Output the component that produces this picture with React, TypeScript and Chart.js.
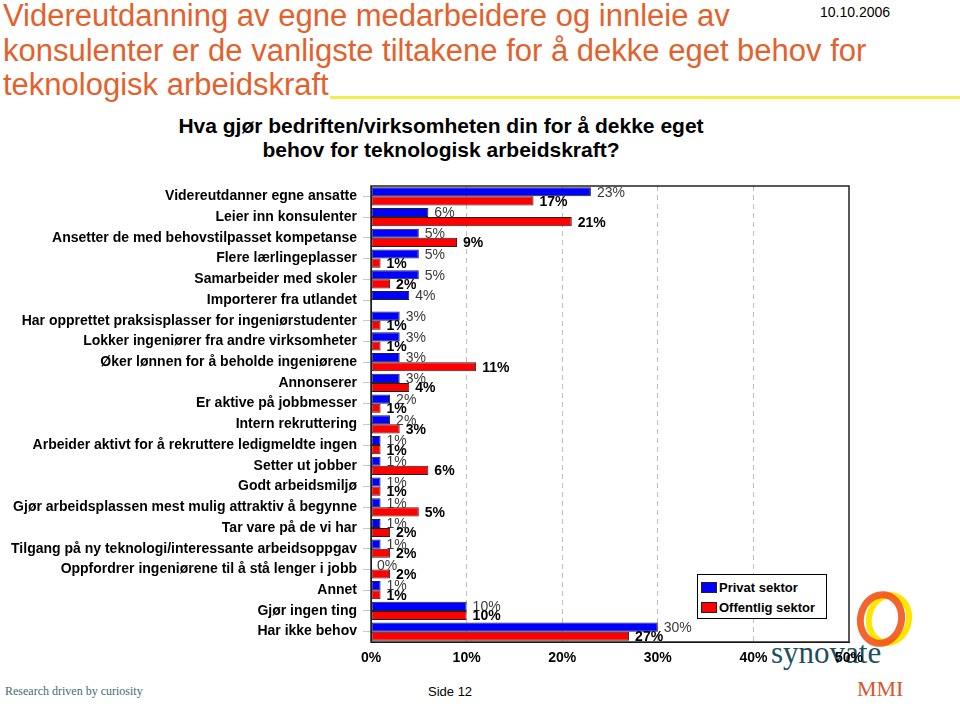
import React, { useEffect, useRef } from "react";
import { Chart, registerables } from "chart.js";

Chart.register(...registerables);

const categories = [
  "Videreutdanner egne ansatte",
  "Leier inn konsulenter",
  "Ansetter de med behovstilpasset kompetanse",
  "Flere lærlingeplasser",
  "Samarbeider med skoler",
  "Importerer fra utlandet",
  "Har opprettet praksisplasser for ingeniørstudenter",
  "Lokker ingeniører fra andre virksomheter",
  "Øker lønnen for å beholde ingeniørene",
  "Annonserer",
  "Er aktive på jobbmesser",
  "Intern rekruttering",
  "Arbeider aktivt for å rekruttere ledigmeldte ingen",
  "Setter ut jobber",
  "Godt arbeidsmiljø",
  "Gjør arbeidsplassen mest mulig attraktiv å begynne",
  "Tar vare på de vi har",
  "Tilgang på ny teknologi/interessante arbeidsoppgav",
  "Oppfordrer ingeniørene til å stå lenger i jobb",
  "Annet",
  "Gjør ingen ting",
  "Har ikke behov",
];

const privatSektor: (number | null)[] = [23, 6, 5, 5, 5, 4, 3, 3, 3, 3, 2, 2, 1, 1, 1, 1, 1, 1, 0, 1, 10, 30];
const offentligSektor: (number | null)[] = [17, 21, 9, 1, 2, null, 1, 1, 11, 4, 1, 3, 1, 6, 1, 5, 2, 2, 2, 1, 10, 27];
const seriesNames = ["Privat sektor", "Offentlig sektor"];
const seriesColors = ["#0000ff", "#ff0000"];
const xTickValues = [0, 10, 20, 30, 40, 50];

const titleLines = [
  "Videreutdanning av egne medarbeidere og innleie av",
  "konsulenter er de vanligste tiltakene for å dekke eget behov for",
  "teknologisk arbeidskraft",
];
const subtitleLines = [
  "Hva gjør bedriften/virksomheten din for å dekke eget",
  "behov for teknologisk arbeidskraft?",
];

const SANS = '"Liberation Sans", Arial, Helvetica, sans-serif';
const SERIF = '"Liberation Serif", "Times New Roman", serif';

const valueLabels = {
  id: "valueLabels",
  afterDatasetsDraw(chart: any) {
    const ctx = chart.ctx;
    chart.data.datasets.forEach((ds: any, di: number) => {
      const meta = chart.getDatasetMeta(di);
      ctx.save();
      ctx.font = di === 0 ? `14px ${SANS}` : `bold 14px ${SANS}`;
      ctx.fillStyle = di === 0 ? "#3a3a3a" : "#000";
      ctx.textAlign = "left";
      ctx.textBaseline = "middle";
      meta.data.forEach((bar: any, i: number) => {
        const v = ds.data[i];
        if (v === null || v === undefined) return;
        ctx.fillText(v + "%", bar.x + 6, bar.y + 1);
      });
      ctx.restore();
    });
  },
};

const frame = {
  id: "frame",
  afterDraw(chart: any) {
    const { ctx, chartArea: a } = chart;
    ctx.save();
    ctx.strokeStyle = "#222";
    ctx.lineWidth = 1.5;
    ctx.strokeRect(a.left, a.top, a.right - a.left, a.bottom - a.top);
    ctx.restore();
  },
};

export default function App() {
  const ref = useRef<HTMLCanvasElement>(null);

  useEffect(() => {
    if (!ref.current) return;
    const chart = new Chart(ref.current, {
      type: "bar",
      data: {
        labels: categories,
        datasets: [privatSektor, offentligSektor].map((d, i) => ({
          label: seriesNames[i],
          data: d,
          backgroundColor: seriesColors[i],
          borderColor: "#222",
          borderWidth: 1,
          borderSkipped: false,
          categoryPercentage: 0.88,
          barPercentage: 1.0,
        })),
      },
      options: {
        indexAxis: "y",
        animation: false,
        responsive: false,
        maintainAspectRatio: false,
        layout: { padding: { left: 0, right: 111, top: 186, bottom: 32 } },
        plugins: {
          legend: { display: false },
          tooltip: { enabled: false },
        },
        scales: {
          x: {
            type: "linear",
            min: 0,
            max: 50,
            afterBuildTicks: (s: any) => {
              s.ticks = xTickValues.map((v) => ({ value: v }));
            },
            afterFit: (s: any) => {
              s.height = 30;
            },
            ticks: {
              callback: (v: any) => v + "%",
              font: { family: SANS, size: 14, weight: "bold" },
              color: "#000",
              padding: 8,
            },
            grid: {
              color: (c: any) =>
                c.tick && (c.tick.value === 0 || c.tick.value === 50) ? "rgba(0,0,0,0)" : "#bdbdbd",
              drawTicks: false,
              lineWidth: 1,
            },
            border: { display: true, color: "#000", width: 1, dash: [5, 4] },
          },
          y: {
            type: "category",
            afterFit: (s: any) => {
              s.width = 371;
            },
            ticks: {
              autoSkip: false,
              font: { family: SANS, size: 14, weight: "bold" },
              color: "#000",
              padding: 6,
            },
            grid: {
              offset: false,
              drawOnChartArea: false,
              drawTicks: true,
              tickLength: 8,
              color: "#c8c8c8",
            },
            border: { display: true, color: "#000", width: 1 },
          },
        },
      },
      plugins: [valueLabels, frame],
    } as any);
    return () => chart.destroy();
  }, []);

  return (
    <div
      style={{
        position: "fixed",
        left: 0,
        top: 0,
        width: 960,
        height: 704,
        background: "#fff",
        overflow: "hidden",
        fontFamily: SANS,
      }}
    >
      {/* yellow rule */}
      <div style={{ position: "absolute", left: 330, top: 96, width: 630, height: 3, background: "#f2ee4a" }} />
      {/* title */}
      <div
        style={{
          position: "absolute",
          left: 3,
          top: -1,
          fontSize: 31,
          lineHeight: "34.5px",
          color: "#e4612c",
          whiteSpace: "nowrap",
        }}
      >
        {titleLines.map((t, i) => (
          <div key={i}>{t}</div>
        ))}
      </div>
      <div style={{ position: "absolute", left: 820, top: 4, fontSize: 14, color: "#000" }}>10.10.2006</div>
      {/* subtitle */}
      <div
        style={{
          position: "absolute",
          left: 141,
          width: 600,
          top: 114,
          fontSize: 21,
          lineHeight: "24px",
          fontWeight: "bold",
          textAlign: "center",
          color: "#000",
          whiteSpace: "nowrap",
        }}
      >
        {subtitleLines.map((t, i) => (
          <div key={i}>{t}</div>
        ))}
      </div>
      {/* logo */}
      <div
        style={{
          position: "absolute",
          left: 866,
          top: 592,
          width: 34,
          height: 42,
          border: "6px solid #ffe600",
          borderRadius: "50%",
          transform: "rotate(12deg)",
        }}
      />
      <div
        style={{
          position: "absolute",
          left: 857,
          top: 591,
          width: 34,
          height: 42,
          border: "7px solid rgba(240,80,20,0.88)",
          borderRadius: "50%",
          transform: "rotate(12deg)",
        }}
      />
      <div
        style={{
          position: "absolute",
          left: 771,
          top: 633,
          fontFamily: SERIF,
          fontSize: 31,
          color: "#1d4f5f",
          lineHeight: "40px",
        }}
      >
        synovate
      </div>
      <div
        style={{
          position: "absolute",
          left: 857,
          top: 676,
          fontFamily: SERIF,
          fontSize: 22,
          color: "#d9552a",
          lineHeight: "26px",
        }}
      >
        MMI
      </div>
      {/* footer */}
      <div
        style={{
          position: "absolute",
          left: 5,
          top: 684,
          fontFamily: SERIF,
          fontSize: 12,
          color: "#3f6d72",
        }}
      >
        Research driven by curiosity
      </div>
      <div style={{ position: "absolute", left: 428, top: 684, fontSize: 13, color: "#000" }}>Side 12</div>
      <canvas
        ref={ref}
        width={960}
        height={704}
        style={{ position: "absolute", left: 0, top: 0, width: 960, height: 704 }}
      />
      {/* legend */}
      <div
        style={{
          position: "absolute",
          left: 697,
          top: 574,
          width: 128,
          height: 41,
          border: "1px solid #000",
          background: "#fff",
          paddingTop: 2,
          boxSizing: "content-box",
        }}
      >
        {seriesNames.map((n, i) => (
          <div
            key={n}
            style={{ display: "flex", alignItems: "center", height: 20, fontSize: 13, fontWeight: "bold" }}
          >
            <span
              style={{
                display: "inline-block",
                width: 14,
                height: 9,
                background: seriesColors[i],
                border: "1px solid #222",
                marginLeft: 3,
                marginRight: 2,
              }}
            />
            {n}
          </div>
        ))}
      </div>
    </div>
  );
}
